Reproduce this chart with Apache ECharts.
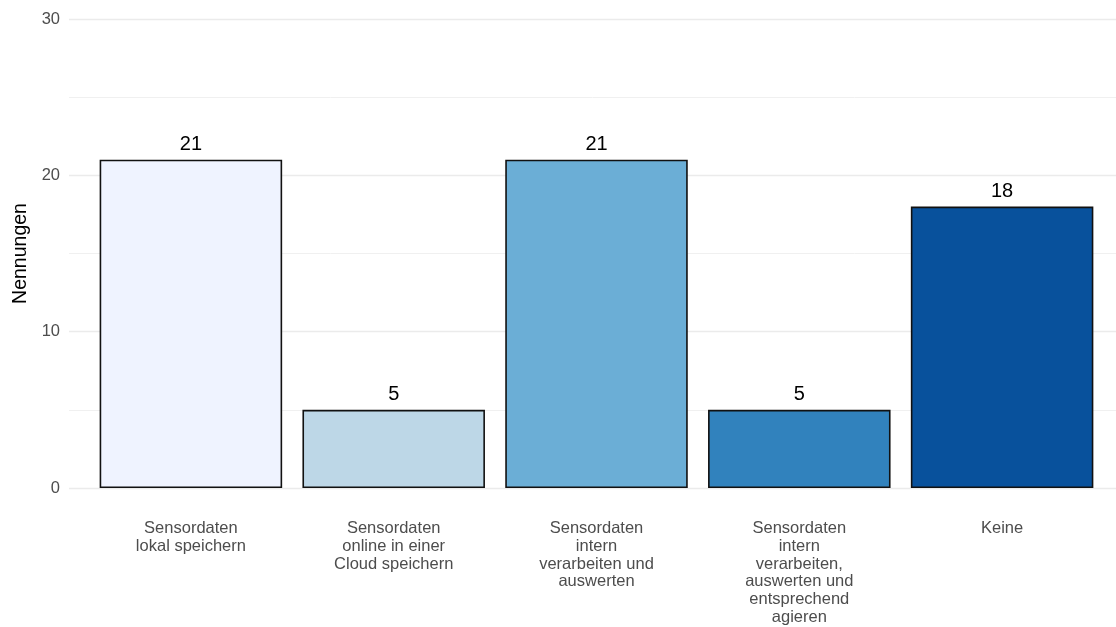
<!DOCTYPE html>
<html>
<head>
<meta charset="utf-8">
<script src="https://cdn.jsdelivr.net/npm/echarts@6/dist/echarts.min.js"></script>
<style>
  html, body { margin: 0; padding: 0; background: #fff; }
  #chart { width: 1116px; height: 627px; }
</style>
</head>
<body>
<div id="chart"></div>
<script>
// Daten
const categories = [
  'Sensordaten\nlokal speichern',
  'Sensordaten\nonline in einer\nCloud speichern',
  'Sensordaten\nintern\nverarbeiten und\nauswerten',
  'Sensordaten\nintern\nverarbeiten,\nauswerten und\nentsprechend\nagieren',
  'Keine',
]
const values = [21, 5, 21, 5, 18]
const barColors = ['#eff3ff', '#bdd7e7', '#6baed6', '#3182bd', '#08519c']
const yTicks = [0, 10, 20, 30]

const font = "'Liberation Sans', Arial, sans-serif"

const options = {
  animation: false,
  // grid 0: nur Gitterlinien + y-Achse (breiter, wie ggplot-Expansion)
  // grid 1: die Balken
  grid: [
    { left: 69, right: 0, top: 19, bottom: 139 },
    { left: 89.5, right: 12.5, top: 19, bottom: 139 },
  ],
  xAxis: [
    { gridIndex: 0, type: 'value', show: false, min: 0, max: 1 },
    {
      gridIndex: 1,
      type: 'category',
      data: categories,
      axisLine: { show: false },
      axisTick: { show: false },
      axisLabel: {
        interval: 0,
        margin: 32,
        color: '#4d4d4d',
        fontSize: 16.5,
        lineHeight: 17.7,
        fontFamily: font,
        align: 'center',
      },
    },
  ],
  yAxis: [
    {
      gridIndex: 0,
      type: 'value',
      min: yTicks[0],
      max: yTicks[yTicks.length - 1],
      interval: 10,
      name: 'Nennungen',
      nameLocation: 'middle',
      nameRotate: 90,
      nameGap: 36,
      nameTextStyle: { color: '#000', fontSize: 19.5, fontFamily: font },
      axisLine: { show: false },
      axisTick: { show: false },
      axisLabel: { color: '#4d4d4d', fontSize: 16.5, fontFamily: font, margin: 9 },
      splitLine: { lineStyle: { color: '#ebebeb', width: 1.3 } },
      minorTick: { show: false, splitNumber: 2 },
      minorSplitLine: { show: true, lineStyle: { color: '#f0f0f0', width: 1 } },
    },
    {
      gridIndex: 1,
      type: 'value',
      min: yTicks[0],
      max: yTicks[yTicks.length - 1],
      interval: 10,
      show: false,
      splitLine: { show: false },
    },
  ],
  series: [
    {
      type: 'bar',
      xAxisIndex: 1,
      yAxisIndex: 1,
      barWidth: '90%',
      data: values.map((v, i) => ({
        value: v,
        itemStyle: { color: barColors[i], borderColor: '#111', borderWidth: 1.6 },
      })),
      label: {
        show: true,
        position: 'top',
        distance: 5,
        color: '#000',
        fontSize: 20,
        fontFamily: font,
      },
    },
  ],
}

const dom = document.getElementById('chart')
const chart = echarts.init(dom)
chart.setOption(options)
</script>
</body>
</html>
